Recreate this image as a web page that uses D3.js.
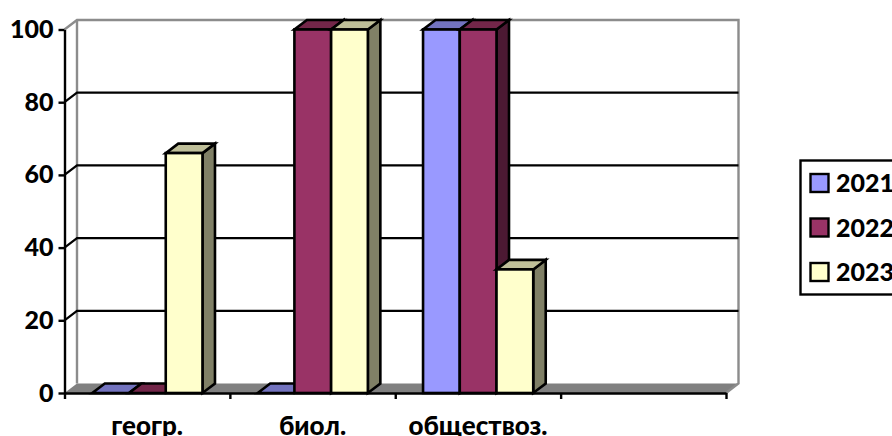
<!DOCTYPE html>
<html>
<head>
<meta charset="utf-8">
<script src="https://cdn.jsdelivr.net/npm/d3@7"></script>
<style>
  html, body { margin: 0; padding: 0; background: #fff; overflow: hidden; }
  svg { display: block; }
  text { font-family: Lato, "Open Sans", sans-serif; font-weight: 900; fill: #000; }
</style>
</head>
<body>
<div id="chart"></div>
<script>
  // Values
  const categories = ['геогр.', 'биол.', 'обществоз.', ''];
  const years = ['2021', '2022', '2023'];
  const values2021 = [0, 0, 100, null];
  const values2022 = [0, 100, 100, null];
  const values2023 = [66, 100, 34, null];
  const yTicks = [0, 20, 40, 60, 80, 100];

  const front = ['#9999FF', '#993366', '#FFFFCC'];
  const top_ = ['#7373BF', '#732649', '#BFBF99'];
  const side = ['#4C4C80', '#4C1933', '#808066'];

  const width = 892, height = 436;
  const depthX = 12.5, depthY = -9.5;
  const plotLeft = 64.5, plotRight = 726, plotBottom = 393, plotTop = 29.5;
  const GREY = '#808080';

  const svg = d3.select('#chart').append('svg')
    .attr('width', width)
    .attr('height', height);

  const x = d3.scaleBand().domain(categories.map((d, i) => i)).range([plotLeft, plotRight]).paddingInner(0).paddingOuter(0);
  const inner = d3.scaleBand().domain(years).range([27.8, x.bandwidth() - 27.4]);
  const y = d3.scaleLinear().domain([0, 100]).range([plotBottom, plotTop]);

  // Walls and floor
  const backLeft = plotLeft + depthX, backRight = plotRight + depthX;
  const backBottom = plotBottom + depthY, backTop = plotTop + depthY;

  svg.append('polygon')
    .attr('points', [[plotLeft, plotBottom], [plotRight, plotBottom], [backRight, backBottom], [backLeft, backBottom]].join(' '))
    .attr('fill', GREY);

  svg.append('path')
    .attr('d', `M${plotLeft},${plotTop}L${backLeft},${backTop}L${backRight},${backTop}L${backRight},${backBottom}L${plotRight},${plotBottom}`)
    .attr('fill', 'none').attr('stroke', '#8c8c8c').attr('stroke-width', 2.4);
  svg.append('line')
    .attr('x1', backLeft).attr('x2', backLeft).attr('y1', backTop).attr('y2', backBottom)
    .attr('stroke', '#8c8c8c').attr('stroke-width', 2.4);

  // Gridlines run along the left wall and across the back
  const grid = yTicks.filter(d => d > 0 && d < 100);
  svg.append('g').selectAll('path')
    .data(grid)
    .enter().append('path')
    .attr('d', d => `M${plotLeft},${y(d)}L${backLeft},${y(d) + depthY}L${backRight},${y(d) + depthY}`)
    .attr('fill', 'none').attr('stroke', '#000').attr('stroke-width', 2.2);

  // Bars, 3 faces each
  const bars = [];
  categories.forEach((c, i) => {
    [values2021, values2022, values2023].forEach((series, s) => {
      if (series[i] != null) bars.push({ cat: i, s: s, value: series[i] });
    });
  });

  const barG = svg.append('g').attr('stroke', '#000').attr('stroke-width', 2.6).attr('stroke-linejoin', 'miter');
  bars.forEach(b => {
    const x0 = x(b.cat) + inner(years[b.s]);
    const x1 = x0 + inner.bandwidth();
    const y0 = y(b.value);
    barG.append('polygon')
      .attr('points', [[x1, y0], [x1 + depthX, y0 + depthY], [x1 + depthX, plotBottom + depthY], [x1, plotBottom]].join(' '))
      .attr('fill', side[b.s]);
    barG.append('polygon')
      .attr('points', [[x0, y0], [x1, y0], [x1 + depthX, y0 + depthY], [x0 + depthX, y0 + depthY]].join(' '))
      .attr('fill', top_[b.s]);
    if (b.value > 0) {
      barG.append('rect')
        .attr('x', x0).attr('y', y0)
        .attr('width', x1 - x0).attr('height', plotBottom - y0)
        .attr('fill', front[b.s]);
    }
  });

  // Y axis
  const yAxis = svg.append('g')
    .attr('transform', `translate(${plotLeft},0)`)
    .call(d3.axisLeft(y).tickValues(yTicks).tickSize(6).tickPadding(5).tickSizeOuter(0));
  yAxis.selectAll('path, line').attr('stroke', '#000').attr('stroke-width', 2.4);
  yAxis.selectAll('text').attr('font-size', 25).attr('fill', '#000').style('font-family', 'Lato').style('font-weight', 900);

  // X axis line + ticks at band edges
  const edges = d3.range(categories.length + 1).map(i => plotLeft + i * x.bandwidth());
  const xEdge = d3.scaleLinear().domain([plotLeft, plotRight]).range([plotLeft, plotRight]);
  const xAxis = svg.append('g')
    .attr('transform', `translate(0,${plotBottom})`)
    .call(d3.axisBottom(xEdge).tickValues(edges).tickSize(6).tickSizeOuter(0).tickFormat(''));
  xAxis.selectAll('path, line').attr('stroke', '#000').attr('stroke-width', 2.4);

  svg.append('g').selectAll('text')
    .data(categories)
    .enter().append('text')
    .attr('x', (d, i) => x(i) + x.bandwidth() / 2)
    .attr('y', 434.5)
    .attr('text-anchor', 'middle')
    .attr('font-size', 26)
    .text(d => d);

  // Legend runs off the right edge like the original
  svg.append('rect')
    .attr('x', 800.5).attr('y', 160.5)
    .attr('width', 110).attr('height', 134)
    .attr('fill', '#fff').attr('stroke', '#000').attr('stroke-width', 2.4);

  const legendY = d3.scalePoint().domain(years).range([183, 272]);
  const legend = svg.append('g').selectAll('g')
    .data(years)
    .enter().append('g')
    .attr('transform', d => `translate(0,${legendY(d)})`);
  legend.append('rect')
    .attr('x', 810.5).attr('y', -9)
    .attr('width', 18).attr('height', 18)
    .attr('fill', (d, i) => front[i])
    .attr('stroke', '#000').attr('stroke-width', 2.4);
  legend.append('text')
    .attr('x', 836).attr('y', 9)
    .attr('font-size', 25)
    .text(d => d);
</script>
</body>
</html>
